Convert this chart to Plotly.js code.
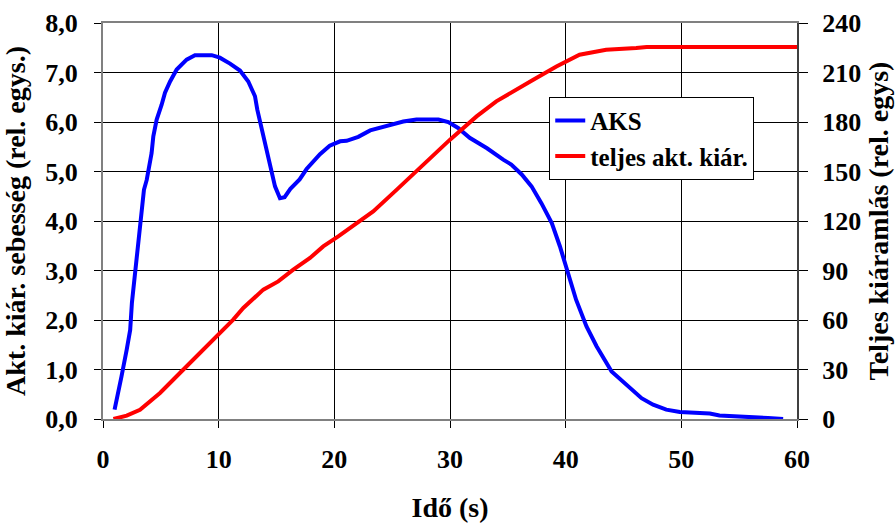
<!DOCTYPE html>
<html>
<head>
<meta charset="utf-8">
<script src="https://cdn.plot.ly/plotly-3.0.1.min.js"></script>
<style>
html,body{margin:0;padding:0;background:#fff;}
#chart{width:895px;height:523px;}
</style>
</head>
<body>
<div id="chart"></div>
<script>
const aksTime = [1.0, 1.2, 1.6, 2.05, 2.35, 2.5, 2.77, 3.05, 3.25, 3.54, 3.78, 4.2, 4.35, 4.64, 5.07, 5.36, 5.8, 6.37, 7.23, 7.95, 9.4, 10.1, 10.98, 11.84, 12.56, 13.14, 13.34, 13.86, 14.43, 14.87, 15.3, 15.7, 16.2, 17.0, 17.6, 18.76, 19.6, 20.5, 21.06, 22.07, 23.1, 24.66, 25.96, 27.1, 29.0, 29.85, 30.7, 31.7, 33.2, 34.6, 35.3, 36.2, 37.05, 37.9, 38.8, 39.5, 40.1, 40.9, 41.8, 42.67, 43.97, 45.26, 46.56, 47.56, 48.7, 49.87, 51.0, 52.46, 53.3, 54.5, 55.9, 57.5, 58.8];
const aksValue = [0.19, 0.39, 0.86, 1.4, 1.8, 2.35, 2.95, 3.62, 4.17, 4.63, 4.83, 5.37, 5.71, 6.05, 6.35, 6.59, 6.82, 7.06, 7.26, 7.35, 7.35, 7.3, 7.18, 7.04, 6.82, 6.52, 6.25, 5.71, 5.17, 4.7, 4.46, 4.48, 4.65, 4.84, 5.05, 5.35, 5.52, 5.61, 5.62, 5.70, 5.83, 5.93, 6.01, 6.05, 6.05, 6.0, 5.88, 5.68, 5.47, 5.24, 5.14, 4.94, 4.7, 4.36, 3.96, 3.49, 3.0, 2.41, 1.87, 1.47, 0.96, 0.69, 0.42, 0.29, 0.19, 0.14, 0.12, 0.11, 0.07, 0.06, 0.04, 0.02, 0.0];
const totTime = [0.9, 2.05, 3.2, 4.93, 6.65, 8.38, 9.97, 11.26, 12.13, 13.86, 15.15, 16.45, 17.9, 19.04, 20.34, 22.5, 23.36, 25.4, 27.4, 30.0, 32.3, 34.0, 37.2, 39.2, 41.2, 43.5, 46.1, 47.0, 50, 55, 60];
const totValue = [0, 2, 5.6, 15.8, 27.9, 40, 51.1, 60.2, 67.3, 78.4, 83.4, 90.5, 97.6, 104.6, 110.7, 121.8, 125.8, 139, 152, 169.3, 183.4, 192.5, 205.6, 213.7, 220.8, 223.8, 224.8, 225.5, 225.5, 225.5, 225.5];

const seriesNames = ['AKS', 'teljes akt. kiár.'];
const xTitle = 'Idő (s)';
const yTitle = 'Akt. kiár. sebesség (rel. egys.)';
const y2Title = 'Teljes kiáramlás (rel. egys)';
const xTickVals = [0, 10, 20, 30, 40, 50, 60];
const yTickVals = [0, 1, 2, 3, 4, 5, 6, 7, 8];
const yTickText = ['0,0', '1,0', '2,0', '3,0', '4,0', '5,0', '6,0', '7,0', '8,0'];
const y2TickVals = [0, 30, 60, 90, 120, 150, 180, 210, 240];

const FONT = 'Liberation Serif';
const b = s => '<b>' + s + '</b>';

const traces = [
  {x: aksTime, y: aksValue, name: b(seriesNames[0]), mode: 'lines',
   line: {color: '#0000ff', width: 4}},
  {x: totTime, y: totValue, name: b(seriesNames[1]), mode: 'lines',
   line: {color: '#ff0000', width: 4}, yaxis: 'y2'}
];

const layout = {
  width: 895, height: 523,
  margin: {l: 103, r: 98, t: 23, b: 104, pad: 0},
  font: {family: FONT, size: 25, color: '#000'},
  legend: {x: 0.643, y: 0.814, xanchor: 'left', yanchor: 'top',
    bgcolor: '#fff', bordercolor: '#000', borderwidth: 1,
    font: {family: FONT, size: 25, color: '#000'}},
  xaxis: {range: [0, 60], tickmode: 'array', tickvals: xTickVals, ticktext: xTickVals.map(v => b(String(v))),
    gridcolor: '#000', zeroline: false, showline: true, linecolor: '#808080', linewidth: 2, mirror: true,
    ticks: 'outside', ticklen: 7, tickcolor: '#000', ticklabelstandoff: 9,
    tickfont: {family: FONT, size: 26, color: '#000'},
    title: {text: b(xTitle), font: {family: FONT, size: 28, color: '#000'}, standoff: 24}},
  yaxis: {range: [0, 8], tickmode: 'array', tickvals: yTickVals, ticktext: yTickText.map(b),
    gridcolor: '#000', zeroline: false, showline: true, linecolor: '#808080', linewidth: 2,
    ticks: 'outside', ticklen: 7, tickcolor: '#000', ticklabelstandoff: 11,
    tickfont: {family: FONT, size: 26, color: '#000'},
    title: {text: b(yTitle), font: {family: FONT, size: 28, color: '#000'}, standoff: 12}},
  yaxis2: {range: [0, 240], tickmode: 'array', tickvals: y2TickVals, ticktext: y2TickVals.map(v => b(String(v))),
    overlaying: 'y', side: 'right',
    showgrid: false, zeroline: false, showline: true, linecolor: '#404040', linewidth: 2,
    ticks: 'outside', ticklen: 9, tickcolor: '#000', ticklabelstandoff: 9,
    tickfont: {family: FONT, size: 26, color: '#000'},
    title: {text: b(y2Title), font: {family: FONT, size: 28, color: '#000'}, standoff: 8}}
};

Plotly.newPlot('chart', traces, layout, {displayModeBar: false, staticPlot: true});
</script>
</body>
</html>
